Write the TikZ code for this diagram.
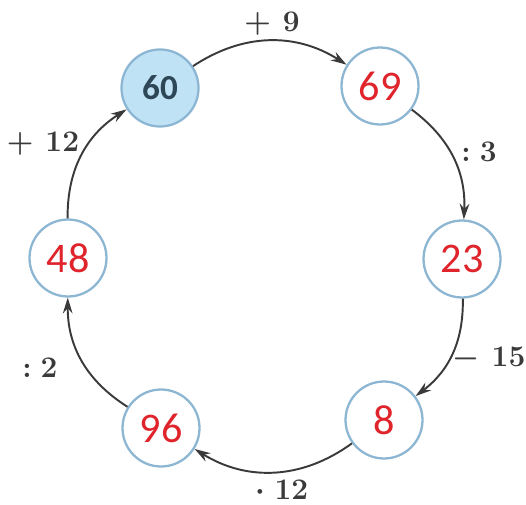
\documentclass[tikz,border=0pt]{standalone}
\usepackage{fontspec}
\newfontfamily\numfont{Carlito}
\usetikzlibrary{arrows.meta}
\definecolor{ringBlue}{HTML}{8CB6D2}
\definecolor{startFill}{HTML}{BFE2F5}
\definecolor{numRed}{HTML}{E0242C}
\definecolor{startText}{HTML}{2E4756}
\definecolor{opGray}{HTML}{3A3A3A}

\begin{document}
\begin{tikzpicture}[
  x=0.02cm, y=0.02cm,
  num/.style={circle, draw=ringBlue, line width=1.3pt, fill=white, minimum size=1.54cm, inner sep=0pt, font=\numfont\fontsize{24}{24}\selectfont, text=numRed},
  start/.style={num, fill=startFill, text=startText, font=\numfont\fontsize{20}{20}\selectfont\bfseries},
  op/.style={font=\fontsize{17}{19}\selectfont\bfseries\boldmath, text=opGray},
  arrow/.style={-{Stealth[length=9pt, width=5.5pt]}, line width=1.1pt, color=opGray},
]
\useasboundingbox (0,0) rectangle (526,504);

% Ring of numbers
\node[start] (n60) at (160,416) {60};
\node[num] (n69) at (380,418) {69};
\node[num] (n23) at (462,245) {23};
\node[num] (n8) at (384,84) {8};
\node[num] (n96) at (161,76) {96};
\node[num] (n48) at (68,246) {48};

% Operations
\node[op] (op9) at (272,480) {$+$\hspace{0.4em}9};
\node[op] (op3) at (479,352) {:\hspace{0.3em}3};
\node[op] (op15) at (489,145) {$-$\hspace{0.4em}15};
\node[op] (op12b) at (282,14) {$\cdot$\hspace{0.3em}12};
\node[op] (op2) at (40,136) {:\hspace{0.3em}2};
\node[op] (op12a) at (43,360) {$+$\hspace{0.4em}12};

% Arrows
\draw[arrow] (n60) to[bend left=33] (n69);
\draw[arrow] (n69) to[bend left=28] (n23);
\draw[arrow] (n23) to[bend left=27] (n8);
\draw[arrow] (n8) to[bend left=34] (n96);
\draw[arrow] (n96) to[bend left=29] (n48);
\draw[arrow] (n48) to[bend left=29] (n60);

\end{tikzpicture}
\end{document}
